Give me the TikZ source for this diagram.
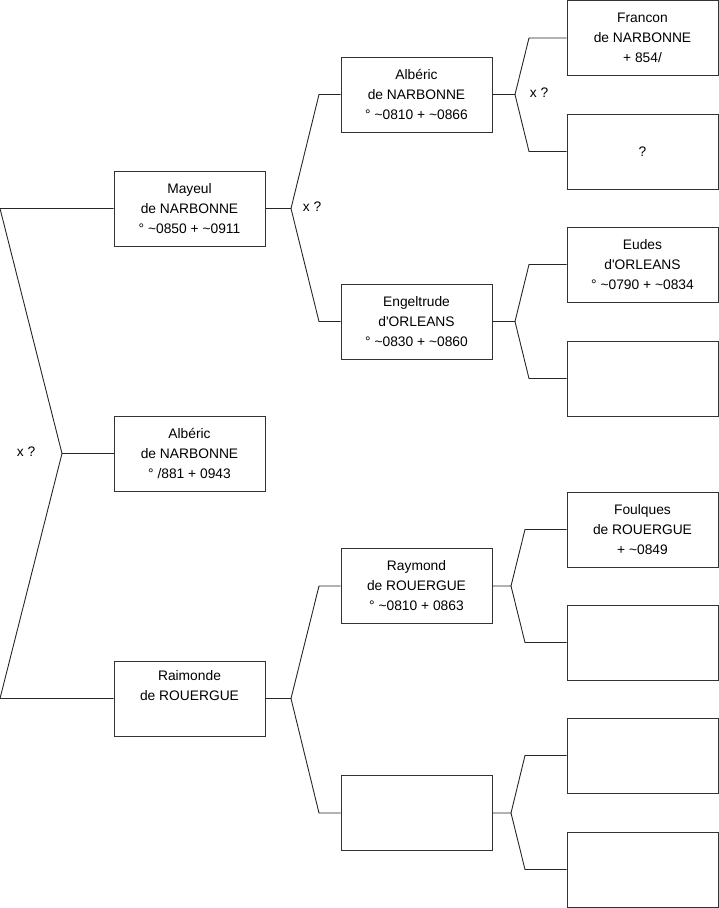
\documentclass[tikz,border=0pt]{standalone}
\usepackage{fontspec}
\newfontfamily\lsans{Liberation Sans}
\newcommand\tld{\textasciitilde}
\begin{document}
\begin{tikzpicture}[x=1pt,y=-1pt,
  person/.style={draw=black!80, line width=0.9pt, rectangle, minimum width=151pt, minimum height=75pt,
    inner sep=0pt, align=center, font=\lsans\fontsize{13.8}{20}\selectfont},
  conn/.style={draw=black!85, line width=0.9pt},
  lbl/.style={font=\lsans\fontsize{13.8}{20}\selectfont, inner sep=0pt}]
\useasboundingbox (0,0) rectangle (719,908);

% column 1
\node[person] (mayeul) at (189.5,208.5) {Mayeul\\de NARBONNE\\° \tld0850 + \tld0911};
\node[person] (alberic1) at (189.5,453.5) {Albéric\\de NARBONNE\\° /881 + 0943};
\node[person] (raimonde) at (189.5,698.5) {Raimonde\\de ROUERGUE\\\strut};
% column 2
\node[person] (alberic2) at (416.5,94.5) {Albéric\\de NARBONNE\\° \tld0810 + \tld0866};
\node[person] (engel) at (416.5,321.5) {Engeltrude\\d'ORLEANS\\° \tld0830 + \tld0860};
\node[person] (raymond) at (416.5,586) {Raymond\\de ROUERGUE\\° \tld0810 + 0863};
\node[person] (empty2) at (416.5,813) {};
% column 3
\node[person] (francon) at (642.5,38) {Francon\\de NARBONNE\\+ 854/};
\node[person] (unknown) at (642.5,151.5) {?};
\node[person] (eudes) at (642.5,264.5) {Eudes\\d'ORLEANS\\° \tld0790 + \tld0834};
\node[person] (e3a) at (642.5,378.5) {};
\node[person] (foulques) at (642.5,529.5) {Foulques\\de ROUERGUE\\+ \tld0849};
\node[person] (e3b) at (642.5,642.5) {};
\node[person] (e3c) at (642.5,755.5) {};
\node[person] (e3d) at (642.5,869.5) {};

% left bracket
\coordinate (a0) at (0,208.5);
\coordinate (a1) at (62,453.5);
\coordinate (a2) at (0,698.5);
\draw[conn] (mayeul.west) -- (a0) -- (a1) -- (a2) -- (raimonde.west);
\draw[conn] (a1) -- (alberic1.west);
\node[lbl] (x1) at (26,452) {x ?};

% Mayeul parents
\coordinate (b0) at (291,208.5);
\coordinate (b1) at (319,94.5);
\coordinate (b2) at (319,321.5);
\draw[conn] (mayeul.east) -- (b0) -- (b1) -- (alberic2.west);
\draw[conn] (b0) -- (b2) -- (engel.west);
\node[lbl] (x2) at (312,207) {x ?};

% Raimonde parents
\coordinate (c0) at (291,698.5);
\coordinate (c1) at (319,586);
\coordinate (c2) at (319,813);
\draw[conn] (raimonde.east) -- (c0) -- (c1) -- (raymond.west);
\draw[conn] (c0) -- (c2) -- (empty2.west);

% Alberic parents
\coordinate (d0) at (515,94.5);
\coordinate (d1) at (529,38);
\coordinate (d2) at (529,151.5);
\draw[conn] (alberic2.east) -- (d0) -- (d1) -- (francon.west);
\draw[conn] (d0) -- (d2) -- (unknown.west);
\node[lbl] (x3) at (539,93) {x ?};

% Engeltrude parents
\coordinate (e0) at (515,321.5);
\coordinate (e1) at (529,264.5);
\coordinate (e2) at (529,378.5);
\draw[conn] (engel.east) -- (e0) -- (e1) -- (eudes.west);
\draw[conn] (e0) -- (e2) -- (e3a.west);

% Raymond parents
\coordinate (f0) at (511,586);
\coordinate (f1) at (525,529.5);
\coordinate (f2) at (525,642.5);
\draw[conn] (raymond.east) -- (f0) -- (f1) -- (foulques.west);
\draw[conn] (f0) -- (f2) -- (e3b.west);

% empty parents
\coordinate (g0) at (511,813);
\coordinate (g1) at (525,755.5);
\coordinate (g2) at (525,869.5);
\draw[conn] (empty2.east) -- (g0) -- (g1) -- (e3c.west);
\draw[conn] (g0) -- (g2) -- (e3d.west);
\end{tikzpicture}
\end{document}
